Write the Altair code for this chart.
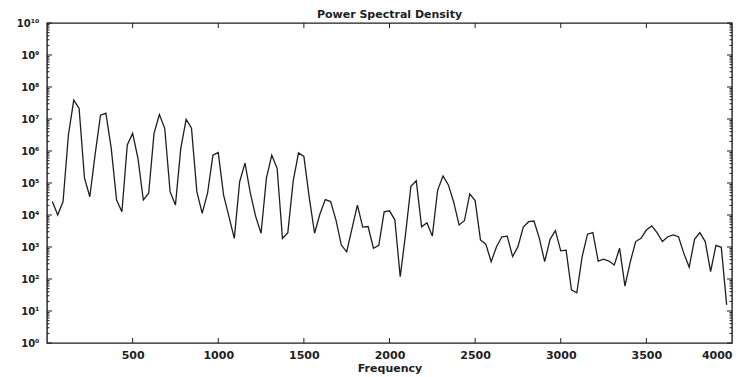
import altair as alt
import pandas as pd

# ---- data (FFT bins every 31.25 Hz) ----
freq_hz = [31.25 * k for k in range(1, 128)]
psd_log10 = [
    4.42, 4.00, 4.42, 6.50, 7.59, 7.33, 5.16, 4.57, 5.90, 7.12,
    7.18, 6.09, 4.47, 4.10, 6.19, 6.55, 5.77, 4.47, 4.68, 6.55,
    7.14, 6.71, 4.73, 4.31, 6.08, 6.99, 6.71, 4.73, 4.05, 4.68,
    5.87, 5.95, 4.62, 3.95, 3.27, 5.04, 5.62, 4.68, 3.95, 3.43,
    5.15, 5.87, 5.46, 3.27, 3.45, 5.06, 5.94, 5.83, 4.55, 3.43,
    4.03, 4.48, 4.42, 3.84, 3.06, 2.85, 3.58, 4.31, 3.62, 3.64,
    2.96, 3.05, 4.10, 4.13, 3.85, 2.07, 3.40, 4.90, 5.07, 3.63,
    3.76, 3.34, 4.78, 5.22, 4.94, 4.40, 3.69, 3.82, 4.66, 4.45,
    3.22, 3.09, 2.54, 3.01, 3.32, 3.34, 2.70, 3.01, 3.62, 3.79,
    3.81, 3.27, 2.54, 3.24, 3.51, 2.88, 2.90, 1.66, 1.57, 2.70,
    3.40, 3.45, 2.56, 2.62, 2.56, 2.44, 2.96, 1.78, 2.54, 3.17,
    3.27, 3.53, 3.66, 3.45, 3.17, 3.32, 3.38, 3.32, 2.80, 2.37,
    3.24, 3.45, 3.17, 2.23, 3.05, 2.99, 1.19,
]
x_tick_values = [500, 1000, 1500, 2000, 2500, 3000, 3500, 4000]
y_decade_exps = [0, 1, 2, 3, 4, 5, 6, 7, 8, 9, 10]
minor_mults = [2, 3, 4, 5, 6, 7, 8, 9]

W, H = 685, 320
FONT = "DejaVu Sans"
INK = "#1e1e1e"

df = pd.DataFrame({"Frequency": freq_hz, "PSD": [10 ** e for e in psd_log10]})
df_ymaj = pd.DataFrame({"v": [10 ** d for d in y_decade_exps]})
df_ymin = pd.DataFrame({"v": [m * 10 ** d for d in y_decade_exps[:-1] for m in minor_mults]})
df_xt = pd.DataFrame({"f": x_tick_values[:-1]})

xscale = alt.Scale(domain=[0, 4000], nice=False, zero=False)
yscale = alt.Scale(type="log", domain=[1, 1e10], nice=False)

sup = "['\u2070','\u00b9','\u00b2','\u00b3','\u2074','\u2075','\u2076','\u2077','\u2078','\u2079','\u00b9\u2070']"

line = alt.Chart(df).mark_line(color=INK, strokeWidth=1.3).encode(
    x=alt.X(
        "Frequency:Q", scale=xscale,
        axis=alt.Axis(values=x_tick_values, format="d", title="Frequency",
                      ticks=False, domain=False, grid=False,
                      labelFontSize=11, titleFontSize=11,
                      labelPadding=6, titlePadding=2),
    ),
    y=alt.Y(
        "PSD:Q", scale=yscale,
        axis=alt.Axis(values=[10 ** d for d in y_decade_exps], title=None,
                      labelExpr="'10' + " + sup + "[round(log(datum.value)/LN10)]",
                      ticks=False, domain=False, grid=False, labelPadding=8),
    ),
)

def yticks(data, length):
    left = alt.Chart(data).mark_rule(color=INK, strokeWidth=1).encode(
        y=alt.Y("v:Q", scale=yscale, axis=None),
        x=alt.value(0), x2=alt.value(length))
    right = alt.Chart(data).mark_rule(color=INK, strokeWidth=1).encode(
        y=alt.Y("v:Q", scale=yscale, axis=None),
        x=alt.value(W - length), x2=alt.value(W))
    return [left, right]

xt_bottom = alt.Chart(df_xt).mark_rule(color=INK, strokeWidth=1).encode(
    x=alt.X("f:Q", scale=xscale, axis=None), y=alt.value(H), y2=alt.value(H - 5))
xt_top = alt.Chart(df_xt).mark_rule(color=INK, strokeWidth=1).encode(
    x=alt.X("f:Q", scale=xscale, axis=None), y=alt.value(0), y2=alt.value(5))

chart = alt.layer(
    line, *yticks(df_ymaj, 5), *yticks(df_ymin, 2.5), xt_bottom, xt_top
).resolve_axis(
    x="independent", y="independent"
).properties(
    width=W, height=H,
    title=alt.TitleParams("Power Spectral Density", font=FONT, fontSize=11,
                          fontWeight="bold", color=INK, offset=-2, anchor="middle"),
    padding={"left": 47, "top": 23, "right": 20, "bottom": 34},
    autosize=alt.AutoSizeParams(type="none"),
    background="white",
).configure_view(
    stroke=INK, strokeWidth=1.4
).configure_axis(
    labelFont=FONT, labelFontSize=10, labelFontWeight="bold", labelColor=INK,
    titleFont=FONT, titleFontSize=10, titleFontWeight="bold", titleColor=INK,
)

chart.save("out.html", embed_options={"renderer": "svg", "actions": False})
